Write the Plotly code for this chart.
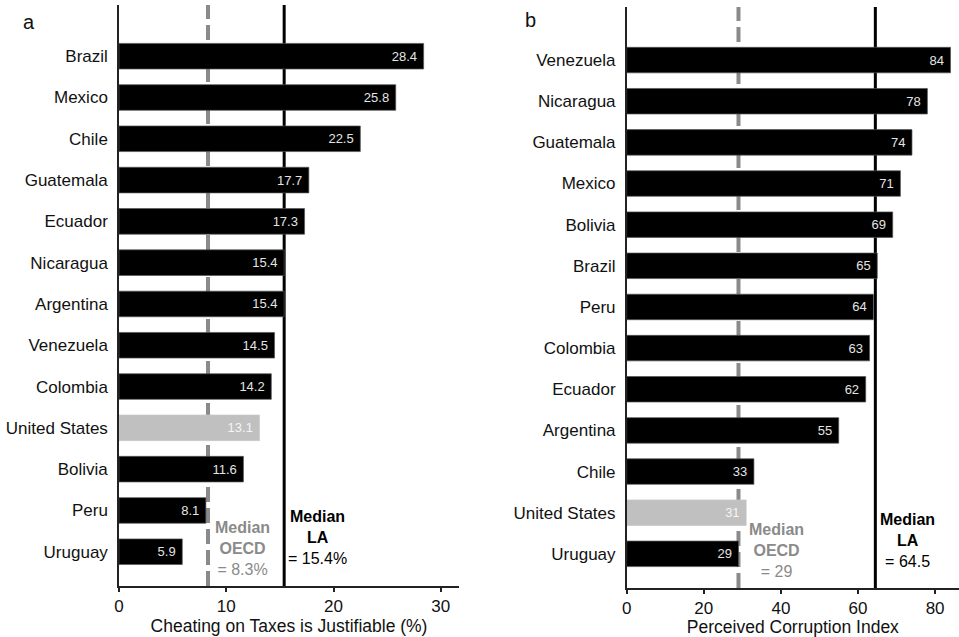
import plotly.graph_objects as go

# Panel a: share saying cheating on taxes is justifiable (%), bottom to top
tax_countries = ["Uruguay", "Peru", "Bolivia", "United States", "Colombia", "Venezuela",
                 "Argentina", "Nicaragua", "Ecuador", "Guatemala", "Chile", "Mexico", "Brazil"]
tax_values = [5.9, 8.1, 11.6, 13.1, 14.2, 14.5, 15.4, 15.4, 17.3, 17.7, 22.5, 25.8, 28.4]
tax_median_oecd = 8.3
tax_median_la = 15.4

# Panel b: perceived corruption index, bottom to top
cpi_countries = ["Uruguay", "United States", "Chile", "Argentina", "Ecuador", "Colombia",
                 "Peru", "Brazil", "Bolivia", "Mexico", "Guatemala", "Nicaragua", "Venezuela"]
cpi_values = [29, 31, 33, 55, 62, 63, 64, 65, 69, 71, 74, 78, 84]
cpi_median_oecd = 29
cpi_median_la = 64.5

W, H = 959, 637
FONT = "Liberation Sans, Arial, sans-serif"
BLACK = "#000000"
US_GREY = "#c0c0c0"
OECD_GREY = "#8a8a8a"


def bar_colors(countries):
    return [US_GREY if c == "United States" else BLACK for c in countries]


def edge_colors(countries):
    return ["#c8c8c8" if c == "United States" else "#555555" for c in countries]


def text_colors(countries):
    return ["#f4f4f4" if c == "United States" else "#e4e4e4" for c in countries]


def fmt(v):
    s = f"{v:g}" if isinstance(v, int) else f"{v:.1f}"
    return s + "\u00a0"


fig = go.Figure()

fig.add_trace(go.Bar(
    x=tax_values, y=tax_countries, orientation="h",
    marker=dict(color=bar_colors(tax_countries),
                line=dict(color=edge_colors(tax_countries), width=0.7)),
    width=0.62,
    text=[fmt(v) for v in tax_values], textposition="inside", insidetextanchor="end",
    textfont=dict(family=FONT, size=13, color=text_colors(tax_countries)),
    xaxis="x", yaxis="y", showlegend=False, hoverinfo="x+y",
))

fig.add_trace(go.Bar(
    x=cpi_values, y=cpi_countries, orientation="h",
    marker=dict(color=bar_colors(cpi_countries),
                line=dict(color=edge_colors(cpi_countries), width=0.7)),
    width=0.62,
    text=[fmt(v) for v in cpi_values], textposition="inside", insidetextanchor="end",
    textfont=dict(family=FONT, size=13, color=text_colors(cpi_countries)),
    xaxis="x2", yaxis="y2", showlegend=False, hoverinfo="x+y",
))

axis_common = dict(
    showgrid=False, zeroline=False, showline=True, linecolor="#222", linewidth=1.5,
    tickfont=dict(family=FONT, size=17, color="#111"), automargin=False,
)

fig.update_layout(
    width=W, height=H,
    margin=dict(l=0, r=0, t=0, b=0),
    paper_bgcolor="white", plot_bgcolor="white",
    font=dict(family=FONT, color="#111"),
    xaxis=dict(
        **axis_common, domain=[119 / W, 459 / W], range=[0, 31.7],
        tickvals=[0, 10, 20, 30], ticks="outside", ticklen=4, tickwidth=1.5, tickcolor="#222",
        anchor="y",
        title=dict(text="Cheating on Taxes is Justifiable (%)",
                   font=dict(family=FONT, size=17.5, color="#111"), standoff=0),
    ),
    yaxis=dict(
        **axis_common, domain=[1 - 586 / H, 1 - 5 / H], range=[-0.83, 13.24],
        type="category", categoryorder="array", categoryarray=tax_countries,
        ticks="", anchor="x", ticklabelstandoff=6,
    ),
    xaxis2=dict(
        **axis_common, domain=[626.7 / W, 1.0], range=[0, 86.2],
        tickvals=[0, 20, 40, 60, 80], ticks="outside", ticklen=4, tickwidth=1.5, tickcolor="#222",
        anchor="y2",
        title=dict(text="Perceived Corruption Index",
                   font=dict(family=FONT, size=17.5, color="#111"), standoff=0),
    ),
    yaxis2=dict(
        **axis_common, domain=[1 - 588 / H, 1 - 7 / H], range=[-0.83, 13.29],
        type="category", categoryorder="array", categoryarray=cpi_countries,
        ticks="", anchor="x2", ticklabelstandoff=6,
    ),
)

# Median reference lines, drawn beneath the bars
for xr, yr, oecd, la in [("x", "y", tax_median_oecd, tax_median_la),
                         ("x2", "y2", cpi_median_oecd, cpi_median_la)]:
    fig.add_shape(type="line", xref=xr, yref=f"{yr} domain", x0=oecd, x1=oecd, y0=0, y1=1,
                  line=dict(color=OECD_GREY, width=4, dash="15px,6px"), layer="below")
    fig.add_shape(type="line", xref=xr, yref=f"{yr} domain", x0=la, x1=la, y0=0, y1=1,
                  line=dict(color=BLACK, width=3), layer="below")


def label_block(xref, xval, xshift, name, value_text, py, color):
    fig.add_annotation(
        xref=xref, yref="paper", x=xval, y=1 - py / H, xshift=xshift,
        text=f"<b>Median</b><br><b>{name}</b><br>{value_text}", showarrow=False,
        xanchor="center", yanchor="middle", align="center",
        font=dict(family=FONT, size=16, color=color),
    )


label_block("x", tax_median_oecd, 34, "OECD", f"= {tax_median_oecd}%", 548, OECD_GREY)
label_block("x", tax_median_la, 33, "LA", f"= {tax_median_la}%", 537, BLACK)
label_block("x2", cpi_median_oecd, 38, "OECD", f"= {cpi_median_oecd}", 550, OECD_GREY)
label_block("x2", cpi_median_la, 32, "LA", f"= {cpi_median_la}", 540, BLACK)

# Panel letters
for letter, px, py in [("a", 29, 22), ("b", 530, 20)]:
    fig.add_annotation(xref="paper", yref="paper", x=px / W, y=1 - py / H,
                       text=letter, showarrow=False, xanchor="center", yanchor="middle",
                       font=dict(family=FONT, size=20, color="#111"))

fig.write_html("out.html")
